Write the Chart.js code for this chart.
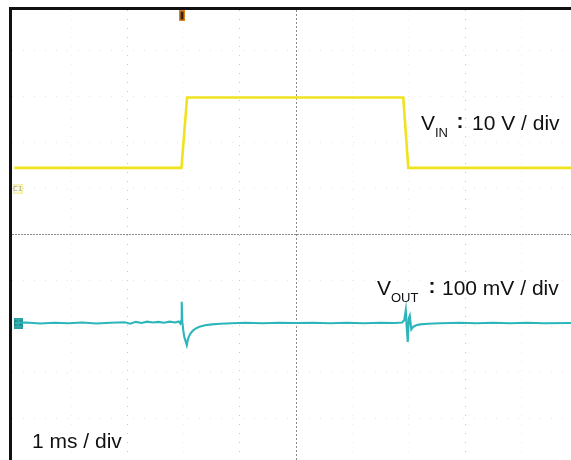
<!DOCTYPE html>
<html>
<head>
<meta charset="utf-8">
<script src="https://cdn.jsdelivr.net/npm/chart.js@4.4.1/dist/chart.umd.min.js"></script>
<style>
  html, body { margin: 0; padding: 0; background: #fff; }
  #scope {
    position: absolute; left: 9px; top: 7px;
    width: 562px; height: 453px;
    border-left: 3px solid #111; border-top: 3px solid #111;
    box-sizing: border-box;
  }
  canvas { display: block; }
</style>
</head>
<body>
<div id="scope"><canvas id="wave" width="559" height="450"></canvas></div>
<script>
'use strict';

// time base in ms (1 ms / div), 0 = screen centre
var vinTime = [-5.01, -2.04, -1.94, 1.90, 1.99, 4.88];
var vinVolt = [4.6, 4.6, 19.9, 19.9, 4.6, 4.6];

var voutTime = [-5.0, -4.8, -4.55, -4.3, -4.05, -3.8, -3.55, -3.3, -3.05, -2.95, -2.85, -2.75, -2.65,
  -2.55, -2.45, -2.35, -2.25, -2.15, -2.09, -2.06, -2.045, -2.035, -2.025, -2.01, -1.99, -1.965,
  -1.945, -1.93, -1.91, -1.88, -1.84, -1.79, -1.72, -1.62, -1.5, -1.35, -1.15, -0.9, -0.6, -0.3,
  0, 0.3, 0.6, 0.9, 1.2, 1.5, 1.75, 1.88, 1.918, 1.945, 1.963, 1.98, 1.998, 2.016, 2.043, 2.08,
  2.13, 2.2, 2.34, 2.56, 2.9, 3.2, 3.5, 3.8, 4.1, 4.4, 4.88];
var voutMv = [0, 1, -1, 0.5, -0.5, 1, -1, 0.5, 1.5, -1.5, 2.5, 0, 3,
  1, 2.5, 0.5, 3, 1, 3.5, -1, 5, 46, 3, -14, -30, -40,
  -48, -38, -30, -23, -17, -12, -8, -5, -3, -1.5, -0.5, 0.5, -0.5, 0.5,
  0, 0.5, -0.5, 0.5, -0.5, 0.5, 0, 1, 6, 28, -12, -41, 10, 16, -14, -8,
  -5, -3, -1.5, -0.5, 0.5, -0.5, 0.5, -0.5, 0.5, -0.5, 0];

var triggerTime = -2.03;

// scope screen ranges (divisions are 46 px tall, 56.3 px wide)
var xRange = [-5.05, 4.88];
var divRange = [-4.913, 4.870];
var vinRange = [-58.91, 38.91];   // 10 V / div, C1 ground
var voutRange = [-297.8, 680.4];  // 100 mV / div, C2 ground

var yellow = '#efe31e';
var cyan = '#2db6ba';

function pairs(xs, ys) {
  return xs.map(function (x, i) { return { x: x, y: ys[i] }; });
}

function markerImage(w, h, fill, edge, label, textColor) {
  var c = document.createElement('canvas');
  c.width = w; c.height = h;
  var g = c.getContext('2d');
  g.fillStyle = edge;
  g.fillRect(0, 0, w, h);
  g.fillStyle = fill;
  g.fillRect(1.5, 1.5, w - 3, h - 3);
  if (label) {
    g.fillStyle = textColor;
    g.font = '7px "DejaVu Sans", sans-serif';
    g.textAlign = 'center';
    g.textBaseline = 'middle';
    g.fillText(label, w / 2, h / 2 + 0.5);
  }
  return c;
}

var trigImg = markerImage(6, 11, '#3b2510', '#e0801e');
var c1Img = markerImage(10, 10, '#fdfbe4', '#f6f0a8', 'C1', '#9a9a80');
var c2Img = markerImage(9, 11, '#36b3b3', '#2a9e9e', 'C2', '#155c5c');

// labels drawn on the screen
var labelPlugin = {
  id: 'labels',
  afterDatasetsDraw: function (chart) {
    var ctx = chart.ctx;
    var a = chart.chartArea;
    ctx.save();
    ctx.fillStyle = '#111';
    ctx.textBaseline = 'alphabetic';
    ctx.textAlign = 'left';
    var big = '21px "Liberation Sans", Arial, sans-serif';
    var sub = '13px "Liberation Sans", Arial, sans-serif';
    var colon = 'bold 21px "Liberation Sans", Arial, sans-serif';

    ctx.font = big; ctx.fillText('V', a.left + 409, a.top + 120);
    ctx.font = sub; ctx.fillText('IN', a.left + 423, a.top + 127);
    ctx.font = colon; ctx.textAlign = 'center'; ctx.fillText(':', a.left + 448, a.top + 118);
    ctx.textAlign = 'left';
    ctx.font = big; ctx.fillText('10 V / div', a.left + 460, a.top + 120);

    ctx.font = big; ctx.fillText('V', a.left + 365, a.top + 285);
    ctx.font = sub; ctx.fillText('OUT', a.left + 379, a.top + 292);
    ctx.font = colon; ctx.textAlign = 'center'; ctx.fillText(':', a.left + 420, a.top + 283);
    ctx.textAlign = 'left';
    ctx.font = big; ctx.fillText('100 mV / div', a.left + 430, a.top + 285);

    ctx.font = big; ctx.fillText('1 ms / div', a.left + 20, a.top + 438);
    ctx.restore();
  }
};

function onlyTicks(values) {
  return function (scale) {
    scale.ticks = values.map(function (v) { return { value: v }; });
  };
}

function gridAxis(axis, range, opts) {
  var s = {
    type: 'linear',
    axis: axis,
    position: axis === 'x' ? 'bottom' : 'left',
    min: range[0],
    max: range[1],
    ticks: { display: false, stepSize: 1 },
    grid: { drawTicks: false, color: opts.color, lineWidth: 1 },
    border: { display: false, dash: opts.dash }
  };
  if (opts.only) s.afterBuildTicks = onlyTicks(opts.only);
  return s;
}

new Chart(document.getElementById('wave'), {
  type: 'line',
  data: {
    datasets: [
      {
        label: 'VIN',
        data: pairs(vinTime, vinVolt),
        xAxisID: 'x',
        yAxisID: 'yVin',
        borderColor: yellow,
        borderWidth: 2.6,
        pointRadius: 0,
        tension: 0
      },
      {
        label: 'VOUT',
        data: pairs(voutTime, voutMv),
        xAxisID: 'x',
        yAxisID: 'yOut',
        borderColor: cyan,
        borderWidth: 2.1,
        pointRadius: 0,
        tension: 0
      },
      {
        label: 'C1',
        type: 'scatter',
        data: [{ x: xRange[0] + 0.1, y: 0 }],
        xAxisID: 'x',
        yAxisID: 'yVin',
        pointStyle: c1Img,
        clip: false
      },
      {
        label: 'C2',
        type: 'scatter',
        data: [{ x: xRange[0] + 0.11, y: 0 }],
        xAxisID: 'x',
        yAxisID: 'yOut',
        pointStyle: c2Img,
        clip: false
      },
      {
        label: 'Trigger',
        type: 'scatter',
        data: [{ x: triggerTime, y: divRange[1] - 0.12 }],
        xAxisID: 'x',
        yAxisID: 'yDiv',
        pointStyle: trigImg,
        clip: false
      }
    ]
  },
  options: {
    responsive: false,
    animation: false,
    events: [],
    layout: { padding: 0, autoPadding: false },
    plugins: {
      legend: { display: false },
      tooltip: { enabled: false }
    },
    scales: {
      x: gridAxis('x', xRange, {
        color: function (c) {
          var v = c.tick.value;
          if (v === -3 || v === -1 || v === 3) return '#c8c8c8';
          if (Number.isInteger(v) && v !== 0) return '#eeeeee';
          return 'rgba(0,0,0,0)';
        },
        dash: [1, 8]
      }),
      xCenter: gridAxis('x', xRange, { color: '#8a8a8a', dash: [2, 2], only: [0] }),
      yDiv: gridAxis('y', divRange, {
        color: function (c) {
          var v = c.tick.value;
          if (Number.isInteger(v) && v !== 0) return '#e6e6e6';
          return 'rgba(0,0,0,0)';
        },
        dash: [1, 10]
      }),
      yCenter: gridAxis('y', divRange, { color: '#8a8a8a', dash: [2, 1], only: [0] }),
      yVin: { type: 'linear', display: false, min: vinRange[0], max: vinRange[1] },
      yOut: { type: 'linear', display: false, min: voutRange[0], max: voutRange[1] }
    }
  },
  plugins: [labelPlugin]
});
</script>
</body>
</html>
